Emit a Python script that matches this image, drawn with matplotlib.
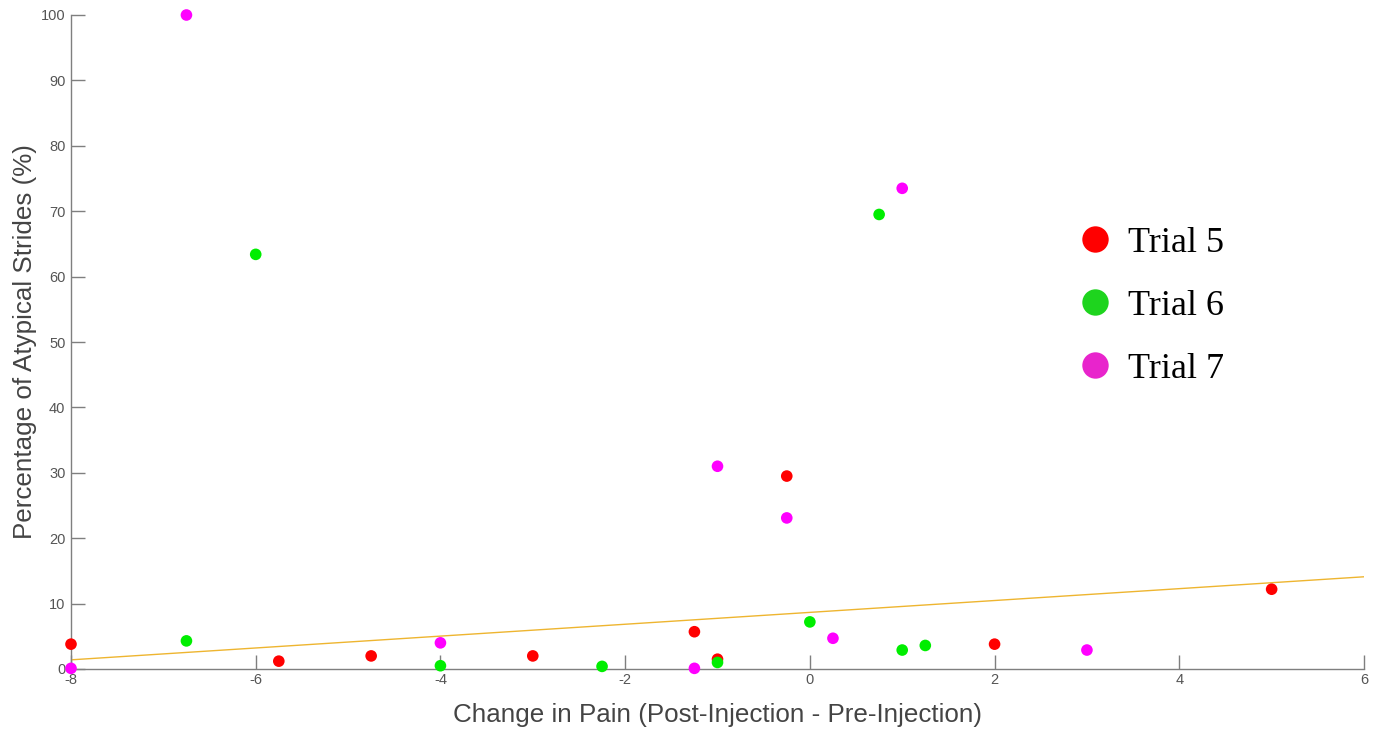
import numpy as np
import matplotlib
matplotlib.use("Agg")
import matplotlib.pyplot as plt
from matplotlib.lines import Line2D

plt.rcParams["axes.unicode_minus"] = False

# data
trial5_x = [-8, -5.75, -4.75, -3, -1.25, -1, -0.25, 2, 5]
trial5_y = [3.8, 1.2, 2.0, 2.0, 5.7, 1.5, 29.5, 3.8, 12.2]

trial6_x = [-6.75, -6, -4, -2.25, -1, 0, 0.75, 1, 1.25]
trial6_y = [4.3, 63.4, 0.5, 0.4, 1.0, 7.2, 69.5, 2.9, 3.6]

trial7_x = [-6.75, -8, -4, -1.25, -1, -0.25, 0.25, 1, 3]
trial7_y = [100, 0.1, 4.0, 0.1, 31.0, 23.1, 4.7, 73.5, 2.9]

trend_x = [-8, 6]
trend_y = [1.4, 14.1]

labels = ["Trial 5", "Trial 6", "Trial 7"]
point_colors = ["#ff0000", "#00ee00", "#ff00ff"]
legend_colors = ["#ff0000", "#1ed41e", "#e824cc"]

fig = plt.figure(figsize=(13.74, 7.31), dpi=100)
ax = fig.add_axes([71/1374, 62/731, (1364-71)/1374, (669-15)/731])

for xs, ys, c in zip([trial5_x, trial6_x, trial7_x], [trial5_y, trial6_y, trial7_y], point_colors):
    ax.scatter(xs, ys, s=70, color=c, edgecolors="none", zorder=3, clip_on=False)

ax.plot(trend_x, trend_y, color="#eeb530", lw=1.0, zorder=2)

ax.set_xlim(-8, 6)
ax.set_ylim(0, 100)
ax.set_xticks(np.arange(-8, 7, 2))
ax.set_yticks(np.arange(0, 101, 10))

for s in ["top", "right"]:
    ax.spines[s].set_visible(False)
for s in ["left", "bottom"]:
    ax.spines[s].set_color("#7f7f7f")
    ax.spines[s].set_linewidth(1.0)

ax.tick_params(direction="in", length=10, width=1, color="#7f7f7f",
               labelcolor="#555555", labelsize=10.5)
ax.tick_params(axis="x", pad=3)
ax.tick_params(axis="y", pad=4)
for lab in ax.get_xticklabels() + ax.get_yticklabels():
    lab.set_family("Liberation Sans")

ax.set_xlabel("Change in Pain (Post-Injection - Pre-Injection)", fontsize=18.7,
              color="#444444", family="Liberation Sans", labelpad=11.5)
ax.set_ylabel("Percentage of Atypical Strides (%)", fontsize=18.7,
              color="#444444", family="Liberation Sans", labelpad=2.5)

handles = [Line2D([], [], ls="none", marker="o", markersize=19, color=c, markeredgewidth=0)
           for c in legend_colors]
fig.legend(handles, labels, loc="center left", bbox_to_anchor=(1059/1374, 1 - 306/731),
           frameon=False, prop={"family": "Liberation Serif", "size": 26},
           handlelength=1.0, handletextpad=0.4, labelspacing=0.82, borderpad=0)

fig.savefig("out.png", dpi=100)
